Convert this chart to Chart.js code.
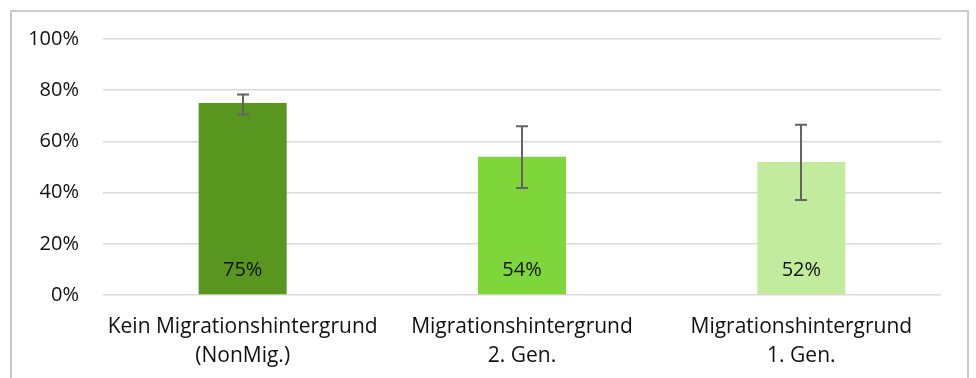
<!DOCTYPE html>
<html>
<head>
<meta charset="utf-8">
<script src="https://cdn.jsdelivr.net/npm/chart.js@4/dist/chart.umd.min.js"></script>
<style>
  html, body { margin: 0; padding: 0; background: #fff; }
  #frame { position: absolute; left: 10px; top: 10px; width: 959px; height: 380px; border: 2px solid #cbcbcb; border-bottom: none; box-sizing: border-box; }
  #wrap { position: absolute; left: 0; top: 0; width: 976px; height: 378px; }
</style>
</head>
<body>
<div id="frame"></div>
<div id="wrap"><canvas id="c" width="976" height="378"></canvas></div>
<script>
const categories = [
  ["Kein Migrationshintergrund", "(NonMig.)"],
  ["Migrationshintergrund", "2. Gen."],
  ["Migrationshintergrund", "1. Gen."]
];
const values = [75, 54, 52];
const errLow = [70.5, 41.8, 37.1];
const errHigh = [78.3, 65.9, 66.5];
const valueLabels = ["75%", "54%", "52%"];
const barColors = ["#58961f", "#7fd63a", "#c2eb9d"];
const yTicks = [0, 20, 40, 60, 80, 100];

const FONT = "'Open Sans', sans-serif";

const errorBarPlugin = {
  id: 'errorBars',
  afterDatasetsDraw(chart) {
    const ctx = chart.ctx;
    const meta = chart.getDatasetMeta(0);
    const y = chart.scales.y;
    ctx.save();
    ctx.strokeStyle = '#636363';
    ctx.lineWidth = 2;
    meta.data.forEach((bar, i) => {
      const x = Math.round(bar.x);
      const yl = y.getPixelForValue(errLow[i]);
      const yh = y.getPixelForValue(errHigh[i]);
      ctx.beginPath();
      ctx.moveTo(x, yl); ctx.lineTo(x, yh);
      ctx.moveTo(x - 6, yl); ctx.lineTo(x + 6, yl);
      ctx.moveTo(x - 6, yh); ctx.lineTo(x + 6, yh);
      ctx.stroke();
    });
    ctx.fillStyle = '#111';
    ctx.font = "20px " + FONT;
    ctx.textAlign = 'center';
    ctx.textBaseline = 'middle';
    meta.data.forEach((bar, i) => {
      ctx.fillText(valueLabels[i], bar.x, y.getPixelForValue(0) - 25);
    });
    ctx.restore();
  }
};

new Chart(document.getElementById('c'), {
  type: 'bar',
  data: {
    labels: categories,
    datasets: [{
      data: values,
      backgroundColor: barColors,
      borderWidth: 0,
      barPercentage: 0.315,
      categoryPercentage: 1.0
    }]
  },
  options: {
    responsive: false,
    animation: false,
    devicePixelRatio: 1,
    layout: { padding: { left: 10, right: 35, top: 39, bottom: 0 } },
    plugins: { legend: { display: false }, tooltip: { enabled: false } },
    scales: {
      x: {
        grid: { display: false, drawTicks: false },
        border: { display: false },
        ticks: {
          color: '#111',
          font: { family: FONT, size: 21, lineHeight: 1.35 },
          padding: 18,
          maxRotation: 0,
          autoSkip: false
        },
        afterFit(scale) { scale.height = 83; scale.paddingLeft = 0; scale.paddingRight = 0; }
      },
      y: {
        min: 0, max: 100,
        afterBuildTicks(scale) { scale.ticks = yTicks.map(v => ({ value: v })); },
        grid: { color: '#d9d9d9', lineWidth: 1.5, drawTicks: false },
        border: { display: false },
        ticks: {
          color: '#111',
          font: { family: FONT, size: 20 },
          padding: 24,
          callback: v => v + '%'
        },
        afterFit(scale) { scale.width = 93; scale.paddingTop = 0; scale.paddingBottom = 0; }
      }
    }
  },
  plugins: [errorBarPlugin]
});
</script>
</body>
</html>
